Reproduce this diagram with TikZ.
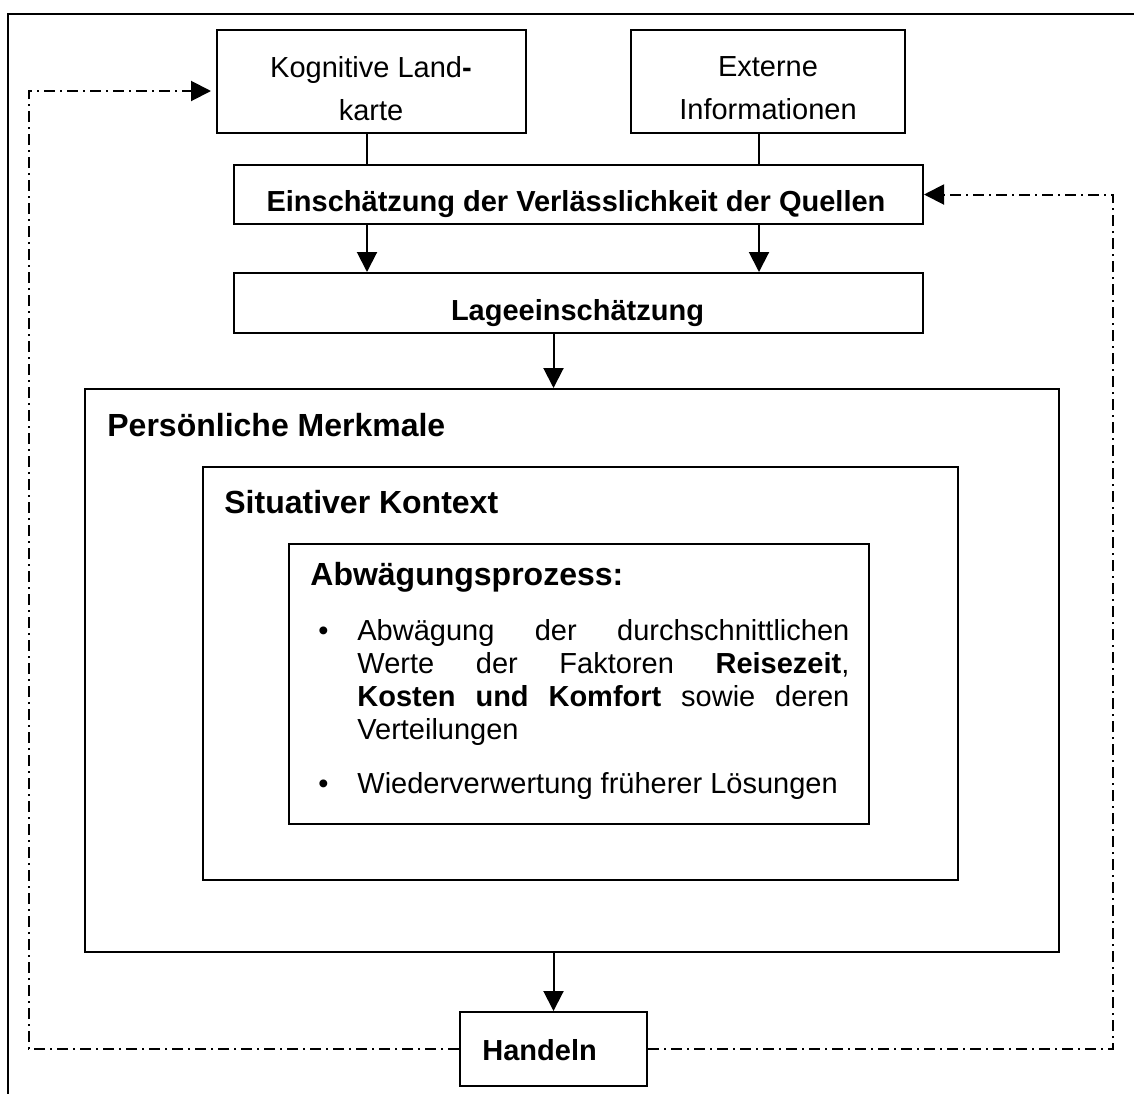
\documentclass[tikz,border=0pt]{standalone}
\usepackage{fontspec}
\setmainfont{Liberation Sans}
\usetikzlibrary{arrows.meta, positioning}

\tikzset{
  box/.style      = {rectangle, draw=black, line width=1pt, inner sep=0pt},
  txt/.style      = {inner sep=0pt, font=\fontsize{14.5}{16.5}\selectfont},
  txtb/.style     = {inner sep=0pt, font=\fontsize{14.5}{16.5}\selectfont\bfseries},
  head/.style     = {inner sep=0pt, font=\fontsize{16}{19}\selectfont\bfseries},
  link/.style     = {line width=1pt},
  arrow/.style    = {line width=1pt, -{Triangle[length=10pt,width=10pt]}},
  feedback/.style = {line width=1pt, dash pattern=on 5.5pt off 2.5pt on 1pt off 2.5pt, -{Triangle[length=10pt,width=10pt]}},
}

\begin{document}
\begin{tikzpicture}[x=0.5pt, y=-0.5pt]
\useasboundingbox (0,0) rectangle (1134,1093);

% Rahmen
\draw[line width=1pt] (8,1100) -- (8,14) -- (1140,14);

% Quellen
\node[box, minimum width=154.5pt, minimum height=51.5pt] (kogn) at (371.5,81.5) {};
\node[box, minimum width=137pt, minimum height=51.5pt] (ext) at (768,81.5) {};
\node[txt, align=center, anchor=north, font=\fontsize{14.5}{21.5}\selectfont] (kogntxt) at (371,56) {Kognitive Land\textbf{-}\\karte};
\node[txt, align=center, anchor=north, font=\fontsize{14.5}{21.5}\selectfont] (exttxt) at (768,56) {Externe\\Informationen};

% Bewertung
\node[box, minimum width=344.5pt, minimum height=29.5pt] (einsch) at (578.5,194.5) {};
\node[txtb, anchor=base] (einschtxt) at (576,211) {Einschätzung der Verlässlichkeit der Quellen};
\node[box, minimum width=344.5pt, minimum height=30pt] (lage) at (578.5,303) {};
\node[txtb, anchor=base] (lagetxt) at (577.5,320) {Lageeinschätzung};

% verschachtelte Kästen
\node[box, minimum width=487pt, minimum height=281.5pt] (pers) at (572,670.5) {};
\node[head, anchor=base west] (perstxt) at (107,436) {Persönliche Merkmale};
\node[box, minimum width=377.5pt, minimum height=206.5pt] (sit) at (580.5,673.5) {};
\node[head, anchor=base west] (sittxt) at (224,513) {Situativer Kontext};
\node[box, minimum width=290pt, minimum height=140pt] (abw) at (579,684) {};
\node[head, anchor=base west] (abwtxt) at (310,585) {Abwägungsprozess:};
\node[txt, anchor=base west, text width=265.5pt, align=justify] (abwlist) at (318,640) {%
\hangindent=19.5pt\hangafter=1\makebox[19.5pt][l]{•}Abwägung der durchschnittlichen\linebreak
Werte der Faktoren \textbf{Reisezeit},\linebreak
\textbf{Kosten und Komfort} sowie deren\linebreak
Verteilungen\par
\vskip10.5pt
\hangindent=19.5pt\hangafter=1\makebox[19.5pt][l]{•}Wiederverwertung früherer Lösungen};

% Handeln
\node[box, minimum width=93.5pt, minimum height=37pt] (hand) at (553.5,1049) {};
\node[txtb, anchor=base west] (handtxt) at (482,1060) {Handeln};

% Verbindungen
\coordinate (colL) at (367,0);
\coordinate (colR) at (759,0);
\draw[link] (kogn.south -| colL) -- (einsch.north -| colL);
\draw[link] (ext.south -| colR) -- (einsch.north -| colR);
\draw[arrow] (einsch.south -| colL) -- (lage.north -| colL);
\draw[arrow] (einsch.south -| colR) -- (lage.north -| colR);
\draw[arrow] (lage.south -| hand.north) -- (pers.north -| hand.north);
\draw[arrow] (pers.south -| hand.north) -- (hand.north);

% Rückkopplung
\coordinate (fbLbot) at (29,1049);
\coordinate (fbLtop) at (29,91);
\coordinate (fbRbot) at (1113,1049);
\coordinate (fbRtop) at (1113,194.5);
\draw[feedback, shorten >=2.5pt] (hand.west) -- (fbLbot) -- (fbLtop) -- (fbLtop -| kogn.west);
\draw[feedback] (hand.east) -- (fbRbot) -- (fbRtop) -- (einsch.east);

\end{tikzpicture}
\end{document}
